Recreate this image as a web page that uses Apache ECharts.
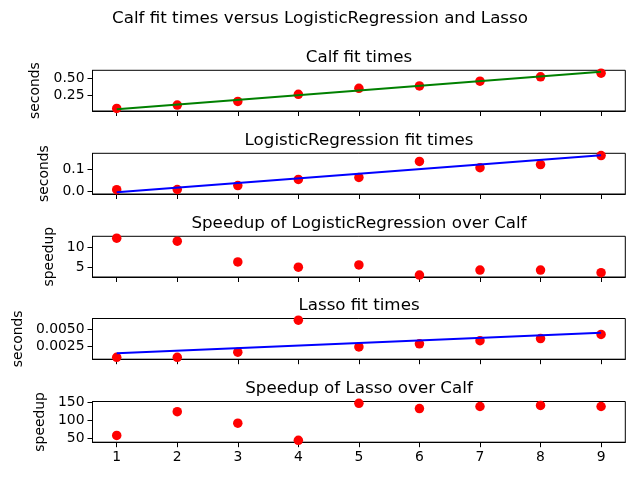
<!DOCTYPE html>
<html>
<head>
<meta charset="utf-8">
<script src="https://cdn.jsdelivr.net/npm/echarts@6/dist/echarts.min.js"></script>
<style>
  body { margin: 0; background: #fff; }
  #chart { width: 640px; height: 480px; }
</style>
</head>
<body>
<div id="chart"></div>
<script>
// data
const xs = [1, 2, 3, 4, 5, 6, 7, 8, 9]
const calfTimes = [0.05, 0.10, 0.155, 0.26, 0.35, 0.385, 0.455, 0.52, 0.575]
const calfFit = [0.04, 0.595] // line at x=1 and x=9
const lrTimes = [0.008, 0.009, 0.027, 0.055, 0.064, 0.1375, 0.109, 0.123, 0.164]
const lrFit = [-0.003, 0.166]
const lrSpeedup = [12.25, 11.5, 6.4, 5.1, 5.67, 3.17, 4.4, 4.4, 3.75]
const lassoTimes = [0.0009, 0.0009, 0.00165, 0.00625, 0.0024, 0.00285, 0.0033, 0.0036, 0.0042]
const lassoFit = [0.0015, 0.00445]
const lassoSpeedup = [56.9, 123.5, 91.2, 43.1, 147, 132.4, 138.2, 141.2, 138.2]

const titles = ['Calf fit times', 'LogisticRegression fit times', 'Speedup of LogisticRegression over Calf', 'Lasso fit times', 'Speedup of Lasso over Calf']
const yNames = ['seconds', 'seconds', 'speedup', 'seconds', 'speedup']
const yTicks = [[0.25, 0.5], [0, 0.1], [5, 10], [0.0025, 0.005], [50, 100, 150]]
const yDigits = [2, 1, 0, 4, 0]
const yRange = [[0.0125, 0.6175], [-0.0115, 0.1745], [2.7, 12.7], [0.00063, 0.0065], [37.9, 152.2]]
const points = [calfTimes, lrTimes, lrSpeedup, lassoTimes, lassoSpeedup]
const fits = [calfFit, lrFit, null, lassoFit, null]
const fitColors = ['#008000', '#0000ff', null, '#0000ff', null]

const font = 'DejaVu Sans'
const tops = [70.3, 153.3, 236.3, 318.5, 401.5]
const panelH = 40.7
const nameGaps = [46, 37.5, 33, 64, 42]

const chart = echarts.init(document.getElementById('chart'), null, { renderer: 'canvas' })

const grid = []
const xAxis = []
const yAxis = []
const series = []
const title = [{
  text: 'Calf fit times versus LogisticRegression and Lasso',
  left: 320, top: 9, textAlign: 'center', padding: 0,
  textStyle: { fontFamily: font, fontSize: 16.7, fontWeight: 'normal', color: '#000', lineHeight: 20 },
}]

titles.forEach((t, i) => {
  grid.push({
    left: 92.5, right: 14.7, top: tops[i], height: panelH,
    show: true, borderColor: '#000', borderWidth: 1, backgroundColor: 'transparent',
  })
  title.push({
    text: t, left: 359, top: tops[i] - 23, textAlign: 'center', padding: 0,
    textStyle: { fontFamily: font, fontSize: 16.7, fontWeight: 'normal', color: '#000', lineHeight: 20 },
  })
  xAxis.push({
    type: 'value', gridIndex: i, min: 0.6, max: 9.4,
    axisLine: { show: true, onZero: false, lineStyle: { color: '#000', width: 1 } },
    axisTick: { show: true, length: 5, lineStyle: { color: '#000' }, customValues: xs },
    axisLabel: {
      show: i === 4, customValues: xs, margin: 8,
      fontFamily: font, fontSize: 13.9, color: '#000',
    },
    splitLine: { show: false },
  })
  yAxis.push({
    type: 'value', gridIndex: i, min: yRange[i][0], max: yRange[i][1],
    name: yNames[i], nameLocation: 'middle', nameGap: nameGaps[i],
    nameTextStyle: { fontFamily: font, fontSize: 13.9, color: '#000' },
    axisLine: { show: true, onZero: false, lineStyle: { color: '#000', width: 1 } },
    axisTick: { show: true, length: 5, lineStyle: { color: '#000' }, customValues: yTicks[i] },
    axisLabel: {
      customValues: yTicks[i], margin: 8,
      fontFamily: font, fontSize: 13.9, color: '#000',
      formatter: (v) => Number(v).toFixed(yDigits[i]),
    },
    splitLine: { show: false },
  })
  series.push({
    type: 'scatter', xAxisIndex: i, yAxisIndex: i,
    data: xs.map((x, k) => [x, points[i][k]]),
    symbol: 'circle', symbolSize: 9.5,
    itemStyle: { color: '#ff0000', opacity: 1 },
    silent: true, z: 2,
  })
  if (fits[i]) {
    series.push({
      type: 'line', xAxisIndex: i, yAxisIndex: i,
      data: [[xs[0], fits[i][0]], [xs[xs.length - 1], fits[i][1]]],
      showSymbol: false, symbol: 'none',
      lineStyle: { color: fitColors[i], width: 2 },
      silent: true, z: 3,
    })
  }
})

chart.setOption({
  animation: false,
  backgroundColor: '#fff',
  title: title,
  grid: grid,
  xAxis: xAxis,
  yAxis: yAxis,
  series: series,
})
</script>
</body>
</html>
